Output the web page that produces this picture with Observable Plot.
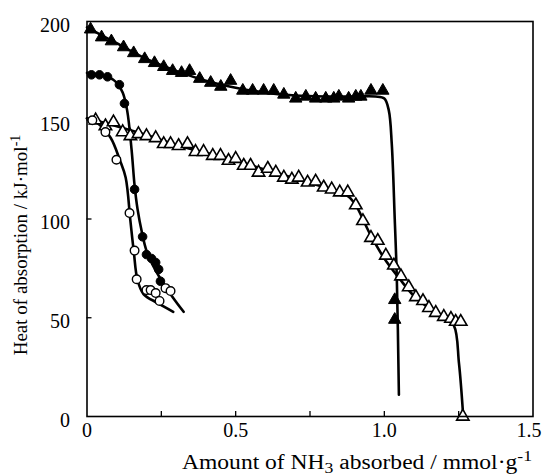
<!DOCTYPE html>
<html>
<head>
<meta charset="utf-8">
<script src="https://cdn.jsdelivr.net/npm/d3@7"></script>
<script src="https://cdn.jsdelivr.net/npm/@observablehq/plot@0.6"></script>
<style>
  body { margin: 0; background: #fff; }
  #chart svg { display: block; }
</style>
</head>
<body>
<div id="chart"></div>
<script>
// Measured heats of NH3 absorption: [amount absorbed (mmol/g), heat (kJ/mol)]
const filledTriangles = [
  [0.012, 196], [0.049, 192], [0.082, 190], [0.123, 187], [0.157, 184],
  [0.194, 181], [0.227, 179], [0.258, 177], [0.288, 175], [0.318, 174],
  [0.345, 175], [0.379, 171], [0.416, 169], [0.450, 167], [0.483, 170],
  [0.524, 165], [0.557, 165], [0.594, 165], [0.628, 165], [0.662, 163],
  [0.702, 161], [0.736, 162], [0.769, 161], [0.803, 161], [0.830, 161],
  [0.847, 162], [0.880, 161], [0.904, 162], [0.921, 162], [0.955, 165],
  [0.995, 165], [1.035, 59], [1.035, 49]
];
const filledCircles = [
  [0.015, 173], [0.042, 173], [0.069, 172], [0.109, 168], [0.126, 158.5],
  [0.160, 115], [0.187, 91], [0.200, 82], [0.217, 80], [0.231, 78],
  [0.241, 74.5], [0.247, 68.5]
];
const openCircles = [
  [0.018, 150], [0.062, 144], [0.099, 130], [0.143, 103], [0.160, 84],
  [0.167, 69.5], [0.200, 64], [0.214, 64], [0.231, 62.5], [0.244, 58.5],
  [0.264, 65], [0.281, 63.5]
];
const openTriangles = [
  [0.029, 150], [0.062, 147], [0.089, 149], [0.120, 144], [0.146, 142],
  [0.173, 143], [0.200, 142], [0.231, 141], [0.258, 138], [0.281, 138],
  [0.308, 137], [0.338, 138], [0.365, 134], [0.392, 134], [0.423, 132],
  [0.449, 132], [0.476, 129.5], [0.500, 130.5], [0.527, 127], [0.550, 127],
  [0.577, 123.5], [0.608, 125.5], [0.635, 123.5], [0.662, 121], [0.689, 120],
  [0.712, 121], [0.742, 118.5], [0.769, 119], [0.796, 116], [0.823, 115],
  [0.850, 113.5], [0.877, 113.5], [0.904, 107], [0.928, 99], [0.955, 90.5],
  [0.978, 89], [1.005, 81.5], [1.032, 76.5], [1.056, 71], [1.082, 65.5],
  [1.106, 60.5], [1.130, 58.5], [1.150, 55], [1.173, 52.5], [1.200, 50.5],
  [1.224, 49.5], [1.240, 48], [1.257, 48], [1.264, 0]
];

// Smoothed trend curves drawn through each set
const filledTriangleFit = [
  [0.0, 197], [0.1, 189], [0.2, 181], [0.3, 175], [0.4, 170], [0.5, 166.5],
  [0.6, 164], [0.7, 162.5], [0.8, 162], [0.9, 162], [0.97, 162], [1.0, 161],
  [1.015, 155], [1.025, 138], [1.035, 100], [1.042, 70], [1.049, 11]
];
const filledCircleFit = [
  [0.0, 174], [0.04, 173], [0.07, 172], [0.10, 169], [0.12, 164], [0.135, 155],
  [0.15, 135], [0.16, 117], [0.17, 105], [0.185, 93], [0.20, 84], [0.22, 77],
  [0.25, 69], [0.29, 60], [0.325, 53]
];
const openCircleFit = [
  [0.0, 151], [0.04, 148], [0.08, 141], [0.11, 130], [0.13, 121], [0.146, 99],
  [0.157, 84], [0.17, 69], [0.19, 62], [0.237, 57.5], [0.29, 53]
];
const openTriangleFit = [
  [0.0, 151], [0.1, 147], [0.2, 142.5], [0.3, 137.5], [0.4, 133.5], [0.5, 129.5],
  [0.6, 125], [0.7, 120.5], [0.8, 116], [0.87, 112.5], [0.9, 108], [0.95, 93],
  [1.0, 80], [1.05, 70], [1.1, 61], [1.15, 55], [1.2, 50.5], [1.234, 46],
  [1.251, 27], [1.264, 3]
];

const xTickLabels = [0, 0.5, 1.0];
const xEdgeLabels = [1.5];
const xTickMarks = [0.25, 0.5, 0.75, 1.0, 1.25];
const yTickLabels = [0, 50, 100, 150, 200];
const yTickMarks = [50, 100, 150];

const serif = "Liberation Serif";
const fmtX = d => d === 0 ? "0" : d3.format(".1f")(d);

const fitLine = (data) => Plot.line(data, {
  x: d => d[0], y: d => d[1], curve: "catmull-rom",
  stroke: "black", strokeWidth: 2.6
});

const chart = Plot.plot({
  width: 543,
  height: 475,
  marginLeft: 86.5,
  marginRight: 10.5,
  marginTop: 21,
  marginBottom: 59,
  style: { background: "white", color: "black" },
  x: { domain: [0, 1.5], axis: null },
  y: { domain: [0, 200], axis: null },
  marks: [
    // tick labels
    Plot.text(xTickLabels, { x: d => d, text: fmtX, frameAnchor: "bottom", dy: 20,
      fontFamily: serif, fontSize: 20, fill: "black" }),
    Plot.text(xEdgeLabels, { x: d => d, text: fmtX, frameAnchor: "bottom", dy: 20, dx: -4,
      fontFamily: serif, fontSize: 20, fill: "black" }),
    Plot.text(yTickLabels, { y: d => d, text: d => String(d), frameAnchor: "left",
      textAnchor: "end", dx: -17, dy: 4,
      fontFamily: serif, fontSize: 20, fill: "black" }),
    // inward tick marks along the bottom and left edges
    Plot.tickX(xTickMarks, { x: d => d, insetTop: 390, stroke: "black", strokeWidth: 1.3 }),
    Plot.tickY(yTickMarks, { y: d => d, insetRight: 441, stroke: "black", strokeWidth: 1.3 }),
    // fitted curves
    fitLine(filledTriangleFit),
    fitLine(filledCircleFit),
    fitLine(openCircleFit),
    fitLine(openTriangleFit),
    // measured points
    Plot.dot(openTriangles, { x: d => d[0], y: d => d[1], symbol: "triangle", r: 4.6,
      fill: "white", stroke: "black", strokeWidth: 1.6 }),
    Plot.dot(openCircles, { x: d => d[0], y: d => d[1], symbol: "circle", r: 4.3,
      fill: "white", stroke: "black", strokeWidth: 1.4 }),
    Plot.dot(filledCircles, { x: d => d[0], y: d => d[1], symbol: "circle", r: 4.3,
      fill: "black", stroke: "black", strokeWidth: 1 }),
    Plot.dot(filledTriangles, { x: d => d[0], y: d => d[1], symbol: "triangle", r: 4.6,
      fill: "black", stroke: "black", strokeWidth: 1 }),
    Plot.frame({ stroke: "black", strokeWidth: 1.6 })
  ]
});

document.getElementById("chart").appendChild(chart);

// Axis titles with sub/superscripts
const svg = d3.select(chart);

const xt = svg.append("text")
  .attr("x", 357).attr("y", 469)
  .attr("text-anchor", "middle")
  .attr("textLength", 350).attr("lengthAdjust", "spacingAndGlyphs")
  .attr("font-family", serif).attr("font-size", 20).attr("fill", "black");
xt.append("tspan").text("Amount of NH");
xt.append("tspan").attr("font-size", 15).attr("dy", 4).text("3");
xt.append("tspan").attr("dy", -4).text(" absorbed / mmol\u00b7g");
xt.append("tspan").attr("font-size", 15).attr("dy", -8).text("-1");

const yt = svg.append("text")
  .attr("transform", "translate(27,245) rotate(-90)")
  .attr("text-anchor", "middle")
  .attr("font-family", serif).attr("font-size", 19).attr("fill", "black");
yt.append("tspan").text("Heat of absorption / kJ\u00b7mol");
yt.append("tspan").attr("font-size", 14).attr("dy", -7).text("-1");
</script>
</body>
</html>
